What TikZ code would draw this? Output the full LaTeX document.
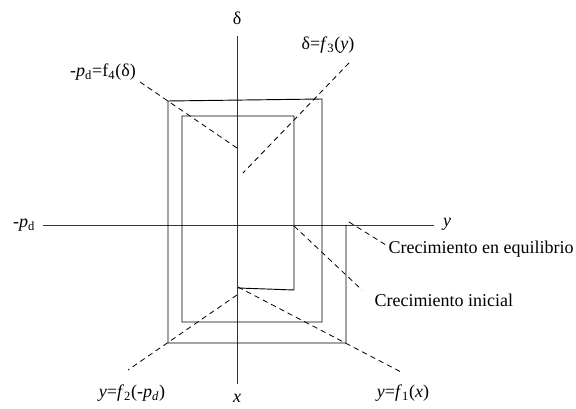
\documentclass[tikz,border=0pt]{standalone}
\usepackage{fontspec}
\setmainfont{Liberation Serif}
\usetikzlibrary{positioning}
\definecolor{ejegray}{HTML}{333333}

\begin{document}
\begin{tikzpicture}[x=0.75pt, y=-0.75pt,
    eje/.style={ejegray, line width=0.7pt},
    espiral/.style={black, line width=0.7pt, line join=miter},
    guia/.style={black, line width=0.6pt, dash pattern=on 4pt off 3pt},
    etiqueta/.style={font=\fontsize{13.5}{16}\selectfont, inner sep=1pt}]
  \useasboundingbox (0,0) rectangle (576,409);
  % ejes
  \coordinate (dtop) at (237,36);
  \coordinate (xbot) at (237,384);
  \coordinate (yleft) at (43,225);
  \coordinate (yright) at (434,225);
  \draw[eje] (dtop) -- (xbot);
  \draw[eje] (yleft) -- (yright);
  \node[etiqueta] (delta) at (237,18) {δ};
  \node[etiqueta] (xlab) at (237,398) {\textit{x}};
  \node[etiqueta] (ylab) at (447,224) {\textit{y}};
  \node[etiqueta] (pdlab) at (24,225) {-\textit{p}\textsubscript{d}};
  % trayectoria en espiral
  \coordinate (s0) at (238,288);
  \coordinate (s1) at (294,290);
  \coordinate (s2) at (294,116);
  \coordinate (s3) at (182,116);
  \coordinate (s4) at (182,322);
  \coordinate (s5) at (322,322);
  \coordinate (s6) at (322,99);
  \coordinate (s7) at (168,101);
  \coordinate (s8) at (168,343);
  \coordinate (s9) at (346,343);
  \coordinate (s10) at (346,225);
  \draw[espiral] (s0) -- (s1) -- (s2) -- (s3) -- (s4) -- (s5)
    -- (s6) -- (s7) -- (s8) -- (s9) -- (s10);
  % funciones (lineas a trazos)
  \coordinate (f4a) at (140,82);  \coordinate (f4b) at (237,148);
  \coordinate (f3a) at (349,63);  \coordinate (f3b) at (243,173);
  \coordinate (f1a) at (238,287); \coordinate (f1b) at (401,372);
  \coordinate (f2a) at (237,295); \coordinate (f2b) at (128,370);
  \coordinate (eqa) at (349,222); \coordinate (eqb) at (386,245);
  \coordinate (ina) at (294,226); \coordinate (inb) at (362,290);
  \draw[guia] (f4a) -- (f4b);
  \draw[guia] (f3a) -- (f3b);
  \draw[guia] (f1a) -- (f1b);
  \draw[guia] (f2a) -- (f2b);
  \draw[guia] (eqa) -- (eqb);
  \draw[guia] (ina) -- (inb);
  \node[etiqueta] (f3lab) at (328,45) {δ=\textit{f}\textsubscript{3}(\textit{y})};
  \node[etiqueta] (f4lab) at (103,72) {-\textit{p}\textsubscript{d}=f\textsubscript{4}(δ)};
  \node[etiqueta] (f1lab) at (403,393) {\textit{y}=\textit{f}\textsubscript{1}(\textit{x})};
  \node[etiqueta] (f2lab) at (132,393) {\textit{y}=\textit{f}\textsubscript{2}(-\textit{p\textsubscript{d}})};
  \node[etiqueta, anchor=west] (eqlab) at (387,249) {Crecimiento en equilibrio};
  \node[etiqueta, anchor=west] (inlab) at (373,300) {Crecimiento inicial};
\end{tikzpicture}
\end{document}
